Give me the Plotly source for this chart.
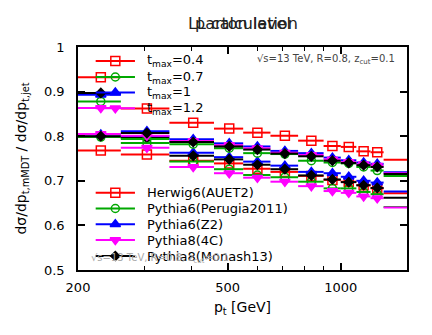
import plotly.graph_objects as go

# pt bins [GeV]
bin_edges = [200, 260, 350, 460, 550, 650, 770, 900, 1000, 1100, 1200, 1300, 2000]

generators = ["Herwig6(AUET2)", "Pythia6(Perugia2011)", "Pythia6(Z2)", "Pythia8(4C)", "Pythia8(Monash13)"]
tmax_values = ["0.4", "0.7", "1", "1.2"]

# upper set of curves
upper_herwig = [0.932, 0.862, 0.830, 0.817, 0.808, 0.801, 0.790, 0.778, 0.776, 0.766, 0.764, 0.747]
upper_perugia = [0.878, 0.794, 0.782, 0.773, 0.762, 0.760, 0.745, 0.741, 0.739, 0.731, 0.723, 0.711]
upper_z2 = [0.893, 0.811, 0.793, 0.784, 0.777, 0.767, 0.762, 0.752, 0.746, 0.741, 0.738, 0.719]
upper_4c = [0.863, 0.801, 0.789, 0.780, 0.773, 0.763, 0.758, 0.748, 0.742, 0.737, 0.734, 0.717]
upper_monash = [0.897, 0.807, 0.787, 0.777, 0.770, 0.761, 0.755, 0.745, 0.740, 0.735, 0.731, 0.715]

# lower set of curves
lower_herwig = [0.768, 0.759, 0.745, 0.739, 0.727, 0.720, 0.711, 0.702, 0.698, 0.690, 0.683, 0.672]
lower_perugia = [0.798, 0.785, 0.743, 0.726, 0.713, 0.708, 0.698, 0.683, 0.683, 0.675, 0.670, 0.641]
lower_z2 = [0.804, 0.800, 0.763, 0.753, 0.743, 0.734, 0.720, 0.717, 0.709, 0.700, 0.696, 0.676]
lower_4c = [0.805, 0.774, 0.731, 0.717, 0.707, 0.698, 0.688, 0.677, 0.673, 0.665, 0.661, 0.640]
lower_monash = [0.800, 0.796, 0.756, 0.748, 0.736, 0.726, 0.712, 0.703, 0.697, 0.690, 0.684, 0.662]

colors = ["#ff0000", "#00a800", "#0000ff", "#ff00ff", "#000000"]
symbols = ["square-open", "circle-open", "triangle-up", "triangle-down", "diamond"]
sizes = [9, 8, 9, 9, 7]

FONT = "DejaVu Sans"

# plot area in page pixels: x 72..407, y 47..270
def px_x(px):
    return (px - 72) / 335


def px_y(py):
    return (270 - py) / 223


def marker_style(i):
    return dict(symbol=symbols[i], size=sizes[i], color=colors[i],
                line=dict(width=1.5, color=colors[i]))


def add_series(fig, values, i):
    xs, ys = [], []
    for lo, hi, v in zip(bin_edges[:-1], bin_edges[1:], values):
        xs += [lo, hi, None]
        ys += [v, v, None]
    fig.add_scatter(x=xs, y=ys, mode="lines", line=dict(color=colors[i], width=2),
                    showlegend=False, hoverinfo="skip")
    centres = [(lo + hi) / 2 for lo, hi in zip(bin_edges[:-1], bin_edges[1:])]
    fig.add_scatter(x=centres, y=values, mode="markers", marker=marker_style(i),
                    showlegend=False)


def add_legend_row(fig, row_y, i, label):
    st = marker_style(i)
    st["opacity"] = [0, 1, 0]
    fig.add_scatter(x=[px_x(90), px_x(110), px_x(130)], y=[px_y(row_y)] * 3,
                    xaxis="x2", yaxis="y2", mode="lines+markers",
                    line=dict(color=colors[i], width=2), marker=st,
                    showlegend=False, hoverinfo="skip")
    fig.add_annotation(x=px_x(140), y=px_y(row_y), xref="paper", yref="paper",
                       text=label, showarrow=False, xanchor="left", yanchor="middle",
                       font=dict(family=FONT, size=13, color="black"))


fig = go.Figure()

lower = [lower_herwig, lower_perugia, lower_z2, lower_4c, lower_monash]
upper = [upper_herwig, upper_perugia, upper_z2, upper_4c, upper_monash]
for i, vals in enumerate(lower):
    add_series(fig, vals, i)
for i, vals in enumerate(upper):
    add_series(fig, vals, i)

tmax_rows = [61, 77, 92.5, 108.3]
for i, t in enumerate(tmax_values):
    add_legend_row(fig, tmax_rows[i], i, "t<sub>max</sub>=" + t)

gen_rows = [192.7, 208.5, 224.3, 240, 256]
for i, g in enumerate(generators):
    add_legend_row(fig, gen_rows[i], i, g)

# overlapping titles
for title in ["LL calculation", "parton level"]:
    fig.add_annotation(x=0.5, y=px_y(24), xref="paper", yref="paper", text=title,
                       showarrow=False, xanchor="center", yanchor="middle",
                       font=dict(family=FONT, size=16, color="#222"))

fig.add_annotation(x=px_x(397), y=px_y(60), xref="paper", yref="paper",
                   text="√s=13 TeV, R=0.8, z<sub>cut</sub>=0.1", showarrow=False,
                   xanchor="right", yanchor="middle",
                   font=dict(family=FONT, size=10, color="#444"))
fig.add_annotation(x=px_x(83), y=px_y(258), xref="paper", yref="paper",
                   text="√s=13 TeV, R=0.8, z<sub>cut</sub>=0.1", showarrow=False,
                   xanchor="left", yanchor="middle",
                   font=dict(family=FONT, size=10, color="#aaa"))

axis_common = dict(showline=True, linecolor="black", linewidth=1.5, mirror="allticks",
                   ticks="inside", ticklen=7, tickwidth=1.5, tickcolor="black",
                   showgrid=False, zeroline=False,
                   tickfont=dict(family=FONT, size=13, color="black"))

# the page body adds an 8px offset, so the figure is shrunk to fit the window
fig.update_layout(
    width=416, height=319, autosize=False,
    margin=dict(l=64, r=17, t=39, b=57),
    plot_bgcolor="white", paper_bgcolor="white",
    showlegend=False,
    xaxis=dict(type="log", range=[2.30103, 3.17609], tickvals=[200, 500, 1000],
               ticktext=["200", "500", "1000"], ticklabelstandoff=5,
               minor=dict(tickvals=[300, 400, 600, 700, 800, 900], ticks="inside",
                          ticklen=4, tickwidth=1, tickcolor="black"),
               title=dict(text="p<sub>t</sub> [GeV]", standoff=8,
                          font=dict(family=FONT, size=14, color="black")),
               **axis_common),
    yaxis=dict(range=[0.5, 1.0], tick0=0.5, dtick=0.1, ticklabelstandoff=9,
               title=dict(text="dσ/dp<sub>t,mMDT</sub> / dσ/dp<sub>t,jet</sub>", standoff=14,
                          font=dict(family=FONT, size=14, color="black")),
               **axis_common),
    xaxis2=dict(overlaying="x", anchor="y2", range=[0, 1], visible=False),
    yaxis2=dict(overlaying="y", anchor="x2", range=[0, 1], visible=False),
)

fig.write_html("out.html")
